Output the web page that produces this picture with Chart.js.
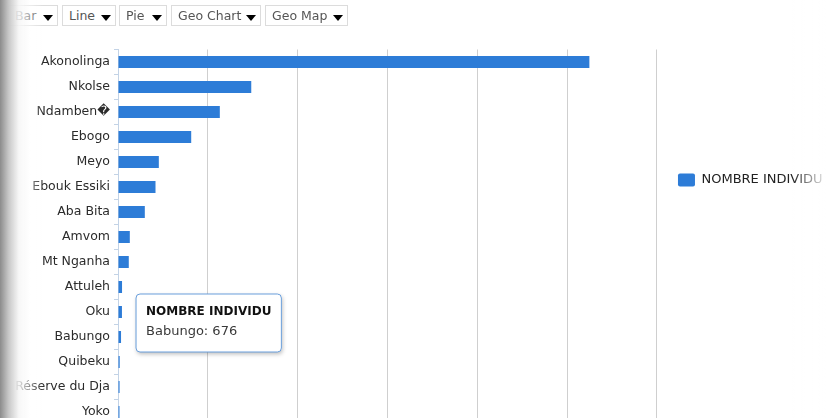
<!DOCTYPE html>
<html>
<head>
<meta charset="utf-8">
<script src="https://cdn.jsdelivr.net/npm/chart.js@4/dist/chart.umd.min.js"></script>
<style>
  html, body { margin: 0; padding: 0; width: 826px; height: 418px; overflow: hidden; background: #fff; }
  #wrap { position: relative; width: 826px; height: 418px; overflow: hidden; }
  #chart { position: absolute; left: 0; top: 0; }
  .picker { position: absolute; top: 5px; height: 19px; border: 1px solid #dcdcdc; background: #fff;
            font: 12.5px "DejaVu Sans", sans-serif; color: #555; line-height: 19px; box-sizing: content-box; }
  .picker span { position: absolute; left: 6px; top: 0; }
  .picker i { position: absolute; right: 4px; top: 9px; width: 0; height: 0;
              border-left: 5px solid transparent; border-right: 5px solid transparent; border-top: 6px solid #000; }
  #edgeL { position: absolute; left: 0; top: 0; width: 44px; height: 418px; pointer-events: none;
           background: linear-gradient(to right, rgba(140,140,140,1) 0px, rgba(200,200,200,0.97) 9px,
                       rgba(246,246,246,0.88) 19px, rgba(255,255,255,0.45) 30px, rgba(255,255,255,0) 44px); }
  #edgeR { position: absolute; right: 0; top: 0; width: 34px; height: 418px; pointer-events: none;
           background: linear-gradient(to right, rgba(255,255,255,0) 0px, rgba(255,255,255,0.5) 18px, rgba(255,255,255,0.92) 34px); }
</style>
</head>
<body>
<div id="wrap">
  <canvas id="chart" width="836" height="436"></canvas>
  <div class="picker" style="left:8px;width:48px"><span>Bar</span><i></i></div>
  <div class="picker" style="left:62px;width:52px"><span>Line</span><i></i></div>
  <div class="picker" style="left:119px;width:46px"><span>Pie</span><i></i></div>
  <div class="picker" style="left:171px;width:88px"><span>Geo Chart</span><i></i></div>
  <div class="picker" style="left:265px;width:81px"><span>Geo Map</span><i></i></div>
  <div id="edgeR"></div>
  <div id="edgeL"></div>
</div>
<script>
// Sites and head counts
const seriesName = 'NOMBRE INDIVIDU';
const sites = ['Akonolinga', 'Nkolse', 'Ndamben\uFFFD', 'Ebogo', 'Meyo', 'Ebouk Essiki', 'Aba Bita',
               'Amvom', 'Mt Nganha', 'Attuleh', 'Oku', 'Babungo', 'Quibeku', 'R\u00e9serve du Dja', 'Yoko'];
const counts = [104950, 29670, 22670, 16300, 9090, 8350, 5970, 2630, 2400, 900, 880, 676, 380, 350, 330];
const axisTicks = [0, 20000, 40000, 60000, 80000, 100000, 120000];
const highlighted = 'Babungo';

const FONT = '"DejaVu Sans", sans-serif';
const BAR_BLUE = '#2d7cd7';

// tooltip anchored just right of the hovered bar's end
Chart.Tooltip.positioners.besideBar = function (items) {
  if (!items.length) return false;
  const el = items[0].element;
  return { x: el.x + 19, y: el.y - 43 };
};

// soft drop shadow behind the tooltip box
const tooltipShadow = {
  id: 'tooltipShadow',
  beforeTooltipDraw(chart, args) {
    const t = args.tooltip;
    if (!t.opacity) return;
    const ctx = chart.ctx;
    ctx.save();
    ctx.shadowColor = 'rgba(0,0,0,0.28)';
    ctx.shadowBlur = 4;
    ctx.shadowOffsetX = 1;
    ctx.shadowOffsetY = 2;
    ctx.fillStyle = '#fff';
    ctx.beginPath();
    ctx.roundRect(t.x, t.y, t.width, t.height, 4);
    ctx.fill();
    ctx.restore();
  }
};

const chart = new Chart(document.getElementById('chart'), {
  type: 'bar',
  data: {
    labels: sites,
    datasets: [{
      label: seriesName,
      data: counts,
      backgroundColor: BAR_BLUE,
      hoverBackgroundColor: BAR_BLUE,
      borderWidth: 0,
      barPercentage: 0.48,
      categoryPercentage: 1
    }]
  },
  plugins: [tooltipShadow],
  options: {
    indexAxis: 'y',
    responsive: false,
    animation: false,
    events: [],
    layout: { padding: { top: 49.5, right: 3.4, bottom: 0, left: 0 } },
    scales: {
      x: {
        min: axisTicks[0],
        max: axisTicks[axisTicks.length - 1],
        afterBuildTicks(scale) { scale.ticks = axisTicks.map(v => ({ value: v })); },
        ticks: { display: false },
        border: { display: false },
        grid: {
          drawTicks: false,
          lineWidth: 1,
          color: ctx => (ctx.index === 0 ? 'rgba(0,0,0,0)' : '#cfcfcf')
        }
      },
      y: {
        afterFit(scale) { scale.width = 118; },
        border: { display: true, color: '#c3d3e6', width: 1 },
        grid: { display: true, drawOnChartArea: false, drawTicks: true, tickLength: 4, color: '#c3d3e6', offset: true },
        ticks: { color: '#2b2b2b', padding: 4, autoSkip: false, font: { family: FONT, size: 12.5 } }
      }
    },
    plugins: {
      legend: {
        position: 'right',
        align: 'start',
        title: { display: true, text: '', padding: { top: 88.6, bottom: 0 } },
        labels: {
          boxWidth: 17,
          boxHeight: 13,
          padding: 21,
          useBorderRadius: true,
          borderRadius: 2,
          color: '#222',
          font: { family: FONT, size: 13 }
        }
      },
      tooltip: {
        enabled: true,
        animation: false,
        position: 'besideBar',
        xAlign: 'left',
        yAlign: 'top',
        caretSize: 0,
        caretPadding: 0,
        cornerRadius: 4,
        backgroundColor: '#ffffff',
        borderColor: '#6a9fdc',
        borderWidth: 1,
        displayColors: false,
        padding: { top: 11, bottom: 13, left: 10, right: 10 },
        titleColor: '#111',
        titleFont: { family: FONT, size: 12, weight: 'bold' },
        titleMarginBottom: 4,
        bodyColor: '#3a3a3a',
        bodyFont: { family: FONT, size: 13 },
        callbacks: {
          title: items => items[0].dataset.label,
          label: item => item.label + ': ' + item.formattedValue
        }
      }
    }
  }
});

const hi = sites.indexOf(highlighted);
const el = chart.getDatasetMeta(0).data[hi];
chart.tooltip.setActiveElements([{ datasetIndex: 0, index: hi }], { x: el.x, y: el.y });
chart.update();
</script>
</body>
</html>
